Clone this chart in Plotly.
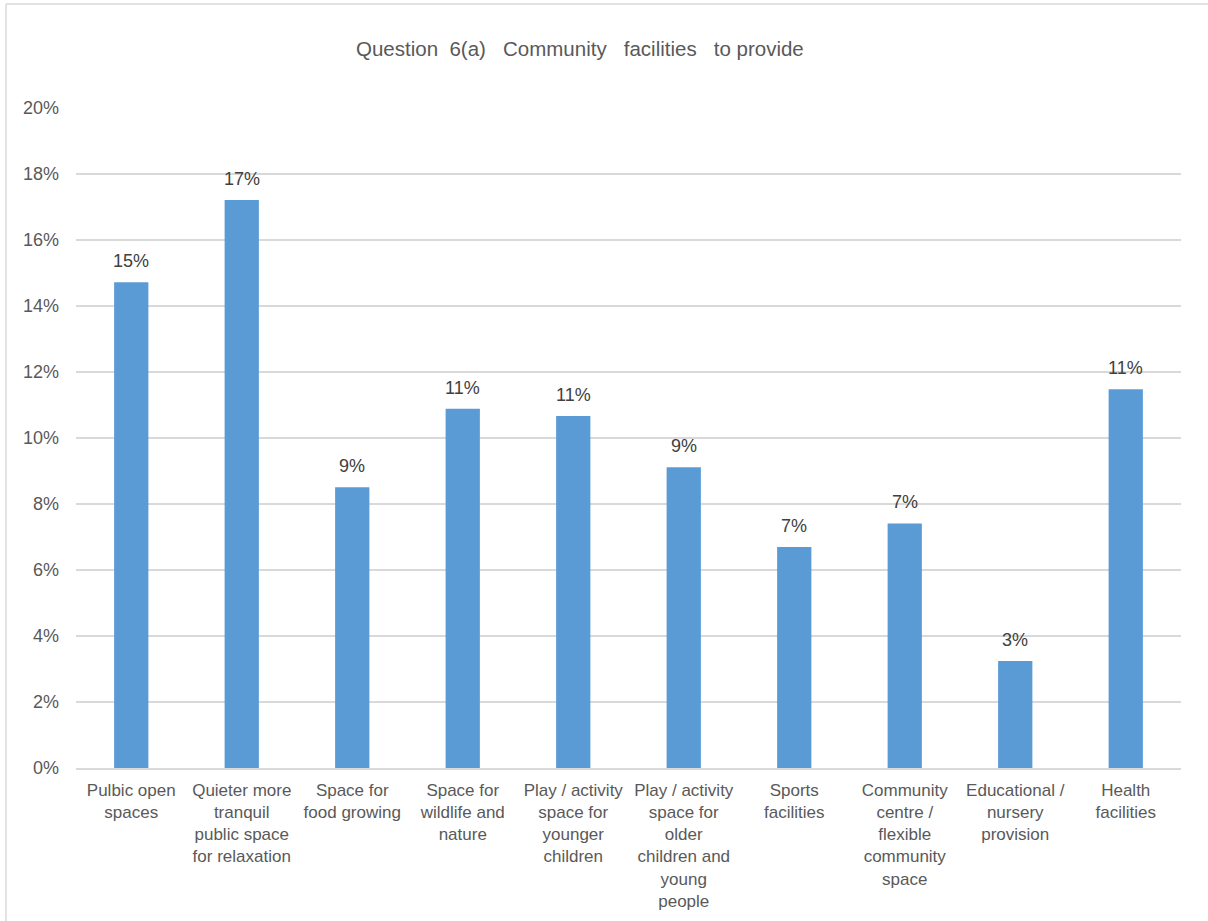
import plotly.graph_objects as go

# Survey results: share of responses per community facility
categories = [
    "Pulbic open<br>spaces",
    "Quieter more<br>tranquil<br>public space<br>for relaxation",
    "Space for<br>food growing",
    "Space for<br>wildlife and<br>nature",
    "Play / activity<br>space for<br>younger<br>children",
    "Play / activity<br>space for<br>older<br>children and<br>young<br>people",
    "Sports<br>facilities",
    "Community<br>centre /<br>flexible<br>community<br>space",
    "Educational /<br>nursery<br>provision",
    "Health<br>facilities",
]
shares = [0.1472, 0.1721, 0.0851, 0.1089, 0.1067, 0.0911, 0.0670, 0.0741, 0.0324, 0.1148]
y_ticks = [0, 0.02, 0.04, 0.06, 0.08, 0.10, 0.12, 0.14, 0.16, 0.18, 0.20]

FONT = "Liberation Sans, Arial, sans-serif"
BAR = "#5b9bd5"
GRID = "#d9d9d9"

W, H = 1208, 921
ML, MR, MT, MB = 76, 27, 108, 153
pw, ph = W - ML - MR, H - MT - MB

fig = go.Figure()
fig.add_trace(go.Bar(
    x=list(range(len(categories))),
    y=shares,
    marker=dict(color=BAR, line=dict(width=0)),
    hoverinfo="skip",
))

# Value labels above each bar
annotations = []
for i, v in enumerate(shares):
    annotations.append(dict(
        x=i, y=v, xref="x", yref="y",
        text=f"{v:.0%}", showarrow=False,
        yanchor="bottom", yshift=9,
        font=dict(family=FONT, size=18, color="#404040"),
    ))

# Chart title, placed in pixel terms then converted to paper coordinates
annotations.append(dict(
    x=(580 - ML) / pw, y=(H - MB - 48) / ph, xref="paper", yref="paper",
    text="Question\u00a0\u00a06(a)\u00a0\u00a0\u00a0Community\u00a0\u00a0\u00a0facilities\u00a0\u00a0\u00a0to provide",
    showarrow=False, xanchor="center", yanchor="middle",
    font=dict(family=FONT, size=20.5, color="#595959"),
))

# Outer chart border (left and top edges)
shapes = [
    dict(type="line", xref="paper", yref="paper",
         x0=(6 - ML) / pw, x1=(6 - ML) / pw,
         y0=(H - MB - 4) / ph, y1=(H - MB - H - 5) / ph,
         line=dict(color=GRID, width=1.5)),
    dict(type="line", xref="paper", yref="paper",
         x0=(6 - ML) / pw, x1=(W + 5 - ML) / pw,
         y0=(H - MB - 4) / ph, y1=(H - MB - 4) / ph,
         line=dict(color=GRID, width=1.5)),
]

fig.update_layout(
    width=W, height=H,
    margin=dict(l=ML, r=MR, t=MT, b=MB, pad=0, autoexpand=False),
    paper_bgcolor="white", plot_bgcolor="white",
    bargap=0.69,
    showlegend=False,
    annotations=annotations,
    shapes=shapes,
    font=dict(family=FONT, color="#595959"),
)
fig.update_xaxes(
    tickmode="array",
    tickvals=list(range(len(categories))),
    ticktext=categories,
    range=[-0.5, len(categories) - 0.5],
    tickangle=0,
    tickfont=dict(family=FONT, size=17, color="#595959"),
    showgrid=False, zeroline=False,
    showline=True, linecolor=GRID, linewidth=1.5,
    ticks="", ticklabelstandoff=6,
    automargin=False,
)
fig.update_yaxes(
    range=[0, 0.2],
    tickmode="array",
    tickvals=y_ticks,
    tickformat=".0%",
    tickfont=dict(family=FONT, size=18, color="#595959"),
    showgrid=True, gridcolor=GRID, gridwidth=1.5,
    zeroline=False, showline=False,
    ticks="", ticklabelstandoff=16,
    automargin=False,
)

fig.write_html("out.html")
